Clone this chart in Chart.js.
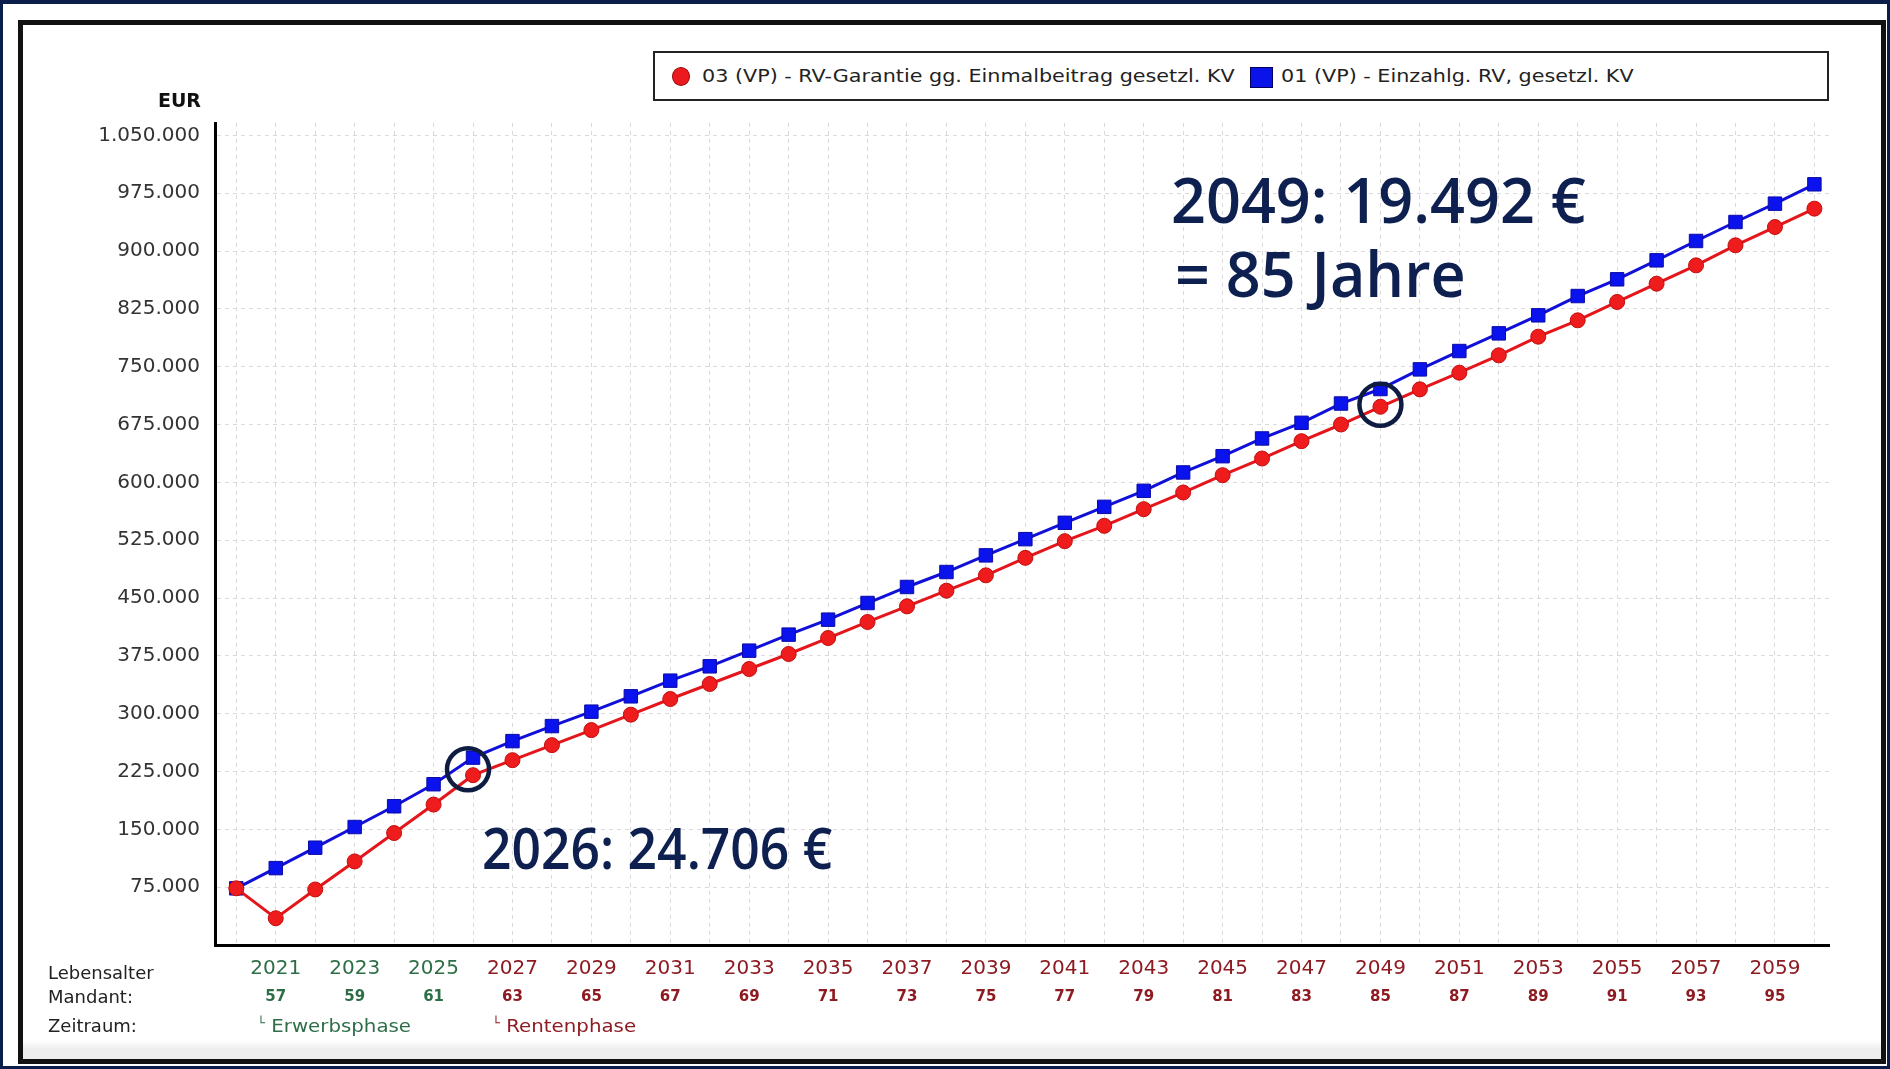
<!DOCTYPE html>
<html lang="de">
<head>
<meta charset="UTF-8">
<title>Rentenvergleich</title>
<script src="https://cdn.jsdelivr.net/npm/chart.js"></script>
<style>
  html, body { margin: 0; padding: 0; }
  body { width: 1890px; height: 1069px; background: #0b1e4a; position: relative; overflow: hidden; font-family: "DejaVu Sans", sans-serif; }
  #panel { position: absolute; left: 3px; top: 4px; width: 1884px; height: 1062px; background: #fff; }
  #rahmen { position: absolute; left: 18px; top: 20px; width: 1868px; height: 1044px; border: 5px solid #111; box-sizing: border-box;
            background: linear-gradient(to bottom, #fff 0, #fff 1016px, #eeeeee 1024px, #eeeeee 100%); }
  #chart-box { position: absolute; left: 0; top: 0; width: 1890px; height: 1069px; }
  .txt { position: absolute; white-space: nowrap; color: #222; transform-origin: left center; }
  #legende { position: absolute; left: 653px; top: 51px; width: 1176px; height: 50px; border: 2px solid #222; box-sizing: border-box; background: #fff; }
  .marker { position: absolute; box-sizing: border-box; }
  .leg-text { position: absolute; top: 11px; height: 24px; line-height: 24px; font-size: 18px; color: #222; white-space: nowrap;
              transform: scaleX(1.15); transform-origin: left center; }
  .hinweis { position: absolute; white-space: nowrap; font-family: "Open Sans", sans-serif; font-weight: 600; color: #0e2050; line-height: 1;
             transform-origin: left center; }
  .ecke { font-size: 12px; position: relative; top: -5px; }
</style>
</head>
<body>
  <div id="panel"></div>
  <div id="rahmen"></div>
  <div id="chart-box">
    <canvas id="grafik" width="1890" height="1069"></canvas>
  </div>

  <div id="legende">
    <div class="marker" style="left:17px; top:14px; width:18px; height:19px; border-radius:50%; background:#ec1a1e; border:1px solid #9a0c0c;"></div>
    <div class="leg-text" style="left:47px;">03 (VP) - RV-Garantie gg. Einmalbeitrag gesetzl. KV</div>
    <div class="marker" style="left:595px; top:14px; width:23px; height:21px; background:#0a14e8; border:1px solid #00005a;"></div>
    <div class="leg-text" style="left:626px;">01 (VP) - Einzahlg. RV, gesetzl. KV</div>
  </div>

  <div class="txt" style="right:1689px; top:89px; font-size:19px; font-weight:bold; line-height:22px; color:#111;">EUR</div>

  <div class="txt" style="left:48px; top:962px; font-size:18px; line-height:22px;">Lebensalter</div>
  <div class="txt" style="left:48px; top:986px; font-size:18px; line-height:22px;">Mandant:</div>
  <div class="txt" style="left:48px; top:1015px; font-size:18px; line-height:22px;">Zeitraum:</div>
  <div class="txt" style="left:257px; top:1015px; font-size:18px; line-height:22px; color:#2d6e47; transform:scaleX(1.1);"><span class="ecke">└</span> Erwerbsphase</div>
  <div class="txt" style="left:492px; top:1015px; font-size:18px; line-height:22px; color:#8e1b22; transform:scaleX(1.1);"><span class="ecke">└</span> Rentenphase</div>

  <div class="hinweis" style="left:1171px; top:167px; font-size:64px; transform:scaleX(0.955);">2049: 19.492 €</div>
  <div class="hinweis" style="left:1175px; top:241px; font-size:64px; transform:scaleX(0.955);">= 85 Jahre</div>
  <div class="hinweis" style="left:482px; top:818px; font-size:58px; transform:scaleX(0.89);">2026: 24.706 €</div>

<script>
  // Jahre und Lebensalter
  const jahre = [2020, 2021, 2022, 2023, 2024, 2025, 2026, 2027, 2028, 2029,
                 2030, 2031, 2032, 2033, 2034, 2035, 2036, 2037, 2038, 2039,
                 2040, 2041, 2042, 2043, 2044, 2045, 2046, 2047, 2048, 2049,
                 2050, 2051, 2052, 2053, 2054, 2055, 2056, 2057, 2058, 2059, 2060];
  const alter = [56, 57, 58, 59, 60, 61, 62, 63, 64, 65,
                 66, 67, 68, 69, 70, 71, 72, 73, 74, 75,
                 76, 77, 78, 79, 80, 81, 82, 83, 84, 85,
                 86, 87, 88, 89, 90, 91, 92, 93, 94, 95, 96];
  const beschrifteteJahre = [2021, 2023, 2025, 2027, 2029, 2031, 2033, 2035, 2037, 2039,
                             2041, 2043, 2045, 2047, 2049, 2051, 2053, 2055, 2057, 2059];
  const ersteRentenjahr = 2026;

  // 03 (VP) - RV-Garantie
  const garantie = [73500, 34700, 72000, 108400, 145200, 182100, 220200, 239700, 259200, 278700,
                    298700, 319000, 338500, 357900, 377400, 398100, 418900, 439200, 459500, 479400,
                    502100, 523700, 543600, 565200, 586800, 609300, 630900, 653400, 675000, 698000,
                    720600, 742200, 764700, 788900, 810100, 833900, 857600, 881400, 907400, 931100, 954900];
  // 01 (VP) - Einzahlg. RV
  const einzahlung = [73500, 99700, 126200, 153000, 179900, 208500, 243000, 264400, 283900, 302600,
                      322500, 342800, 361400, 381700, 402500, 421900, 443500, 464300, 483700, 505300,
                      526300, 547500, 568200, 589000, 612800, 633900, 656900, 677200, 702200, 721000,
                      746500, 770300, 793200, 816600, 841600, 863300, 887900, 913000, 937600, 961400, 986500];

  const yTicks = [0, 75000, 150000, 225000, 300000, 375000, 450000, 525000, 600000, 675000,
                  750000, 825000, 900000, 975000, 1050000];

  const markierteJahre = [2026, 2049];

  const gruen = '#2d6e47';
  const rot = '#8e1b22';

  function formatDE(v) {
    return String(v).replace(/\B(?=(\d{3})+(?!\d))/g, '.');
  }

  function farbeFuerJahr(jahr) {
    return jahr < ersteRentenjahr ? gruen : rot;
  }

  const kreisPlugin = {
    id: 'kreise',
    afterDatasetsDraw(chart) {
      const ctx = chart.ctx;
      const x = chart.scales.x;
      const y = chart.scales.y;
      const verschiebung = [[-5, -6], [0, -2]];
      ctx.save();
      ctx.strokeStyle = '#0d1c40';
      ctx.lineWidth = 4.5;
      markierteJahre.forEach((jahr, i) => {
        const idx = jahre.indexOf(jahr);
        const cx = x.getPixelForValue(jahr) + verschiebung[i][0];
        const cy = y.getPixelForValue(garantie[idx]) + verschiebung[i][1];
        ctx.beginPath();
        ctx.arc(cx, cy, 21, 0, Math.PI * 2);
        ctx.stroke();
      });
      ctx.restore();
    }
  };

  const ctx = document.getElementById('grafik').getContext('2d');
  new Chart(ctx, {
    type: 'line',
    data: {
      labels: jahre,
      datasets: [{
        label: '03 (VP) - RV-Garantie gg. Einmalbeitrag gesetzl. KV',
        data: garantie,
        borderColor: '#e4161b',
        backgroundColor: '#ee1c1c',
        borderWidth: 3,
        pointStyle: 'circle',
        pointRadius: 7.5,
        pointBorderColor: '#c40d0d',
        pointBorderWidth: 1,
        tension: 0
      }, {
        label: '01 (VP) - Einzahlg. RV, gesetzl. KV',
        data: einzahlung,
        borderColor: '#1010d8',
        backgroundColor: '#0a12ee',
        borderWidth: 3,
        pointStyle: 'rect',
        pointRadius: 9.5,
        pointBorderColor: '#0a0aa8',
        pointBorderWidth: 1,
        tension: 0
      }]
    },
    options: {
      responsive: false,
      maintainAspectRatio: false,
      animation: false,
      events: [],
      layout: { padding: { left: 20, right: 61, top: 123, bottom: 48 } },
      plugins: {
        legend: { display: false },
        tooltip: { enabled: false }
      },
      scales: {
        x: {
          type: 'linear',
          position: 'bottom',
          weight: 0,
          min: 2019.46,
          max: 2060.37,
          afterBuildTicks: s => { s.ticks = jahre.map(v => ({ value: v })); },
          afterFit: s => { s.height = 36; },
          grid: { color: '#dadada', lineWidth: 1, drawTicks: false },
          border: { display: true, color: '#000', width: 3, dash: [4, 4] },
          ticks: {
            autoSkip: false,
            maxRotation: 0,
            padding: 12,
            font: { family: 'DejaVu Sans', size: 20 },
            color: c => farbeFuerJahr(jahre[c.index]),
            callback: (v, i) => beschrifteteJahre.includes(jahre[i]) ? String(jahre[i]) : ''
          }
        },
        x2: {
          type: 'linear',
          position: 'bottom',
          weight: 1,
          min: 2019.46,
          max: 2060.37,
          afterBuildTicks: s => { s.ticks = jahre.map(v => ({ value: v })); },
          afterFit: s => { s.height = 40; },
          grid: { display: false, drawTicks: false },
          border: { display: false },
          ticks: {
            autoSkip: false,
            maxRotation: 0,
            padding: 7,
            font: { family: 'DejaVu Sans', size: 15, weight: 'bold' },
            color: c => farbeFuerJahr(jahre[c.index]),
            callback: (v, i) => beschrifteteJahre.includes(jahre[i]) ? String(alter[i]) : ''
          }
        },
        y: {
          min: 0,
          max: 1066000,
          afterBuildTicks: s => { s.ticks = yTicks.map(v => ({ value: v })); },
          afterFit: s => { s.width = 195; },
          grid: { color: '#dadada', lineWidth: 1, drawTicks: false },
          border: { display: true, color: '#000', width: 3, dash: [4, 4] },
          ticks: {
            padding: 15,
            font: { family: 'DejaVu Sans', size: 20 },
            color: '#333',
            callback: v => v === 0 ? '' : formatDE(v)
          }
        }
      }
    },
    plugins: [kreisPlugin]
  });
</script>
</body>
</html>
